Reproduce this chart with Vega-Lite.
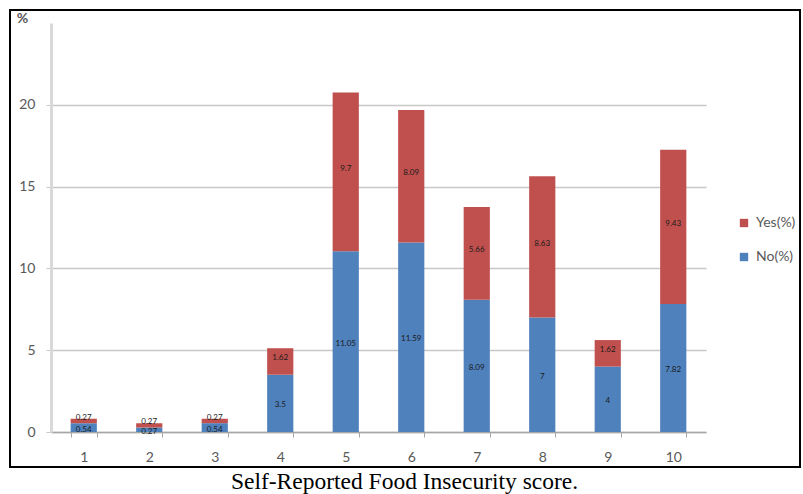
{
  "$schema": "https://vega.github.io/schema/vega-lite/v6.json",
  "width": 655,
  "height": 409,
  "autosize": {"type": "none"},
  "padding": {"left": 51, "top": 23, "right": 97, "bottom": 62},
  "background": "white",
  "config": {
    "view": {"stroke": null},
    "font": "Lato"
  },
  "title": {
    "text": "Self-Reported Food Insecurity score.",
    "orient": "bottom",
    "font": "Liberation Serif",
    "fontSize": 23.5,
    "fontWeight": "normal",
    "color": "#000000",
    "anchor": "middle",
    "dx": 26,
    "offset": 2
  },
  "data": {
    "values": [
      {"score": "1", "series": "No(%)", "value": 0.54},
      {"score": "2", "series": "No(%)", "value": 0.27},
      {"score": "3", "series": "No(%)", "value": 0.54},
      {"score": "4", "series": "No(%)", "value": 3.5},
      {"score": "5", "series": "No(%)", "value": 11.05},
      {"score": "6", "series": "No(%)", "value": 11.59},
      {"score": "7", "series": "No(%)", "value": 8.09},
      {"score": "8", "series": "No(%)", "value": 7},
      {"score": "9", "series": "No(%)", "value": 4},
      {"score": "10", "series": "No(%)", "value": 7.82},
      {"score": "1", "series": "Yes(%)", "value": 0.27},
      {"score": "2", "series": "Yes(%)", "value": 0.27},
      {"score": "3", "series": "Yes(%)", "value": 0.27},
      {"score": "4", "series": "Yes(%)", "value": 1.62},
      {"score": "5", "series": "Yes(%)", "value": 9.7},
      {"score": "6", "series": "Yes(%)", "value": 8.09},
      {"score": "7", "series": "Yes(%)", "value": 5.66},
      {"score": "8", "series": "Yes(%)", "value": 8.63},
      {"score": "9", "series": "Yes(%)", "value": 1.62},
      {"score": "10", "series": "Yes(%)", "value": 9.43}
    ]
  },
  "resolve": {"scale": {"x": "independent", "y": "independent"}},
  "layer": [
    {
      "mark": {
        "type": "rect",
        "fill": null,
        "fillOpacity": 0,
        "stroke": "#000000",
        "strokeWidth": 2
      },
      "encoding": {
        "x": {"value": -41},
        "x2": {"value": {"expr": "width + 94"}},
        "y": {"value": -13},
        "y2": {"value": {"expr": "height + 35"}}
      }
    },
    {
      "encoding": {
        "x": {
          "field": "score",
          "type": "ordinal",
          "sort": ["1","2","3","4","5","6","7","8","9","10"],
          "scale": {"paddingInner": 0.6, "paddingOuter": 0.3},
          "axis": {
            "title": null,
            "labelAngle": 0,
            "labelFont": "Lato",
            "labelFontSize": 14,
            "labelColor": "#595959",
            "labelPadding": 13,
            "tickBand": "extent",
            "tickSize": 5,
            "tickColor": "#a6a6a6",
            "domainColor": "#a6a6a6",
            "domainWidth": 1.5
          }
        },
        "y": {
          "field": "value",
          "type": "quantitative",
          "stack": "zero",
          "scale": {"domain": [0, 25]},
          "axis": {
            "title": "%",
            "titleAngle": 0,
            "titleX": -29,
            "titleY": -5,
            "titleAlign": "center",
            "titleBaseline": "middle",
            "titleFont": "Lato",
            "titleFontSize": 14,
            "titleFontWeight": "bold",
            "titleColor": "#595959",
            "values": [0, 5, 10, 15, 20],
            "labelFont": "Lato",
            "labelFontSize": 14,
            "labelColor": "#595959",
            "labelPadding": 11,
            "tickSize": 5,
            "tickColor": "#c8c8c8",
            "grid": true,
            "gridColor": "#c8c8c8",
            "gridWidth": 1.5,
            "domainColor": "#d9d9d9",
            "domainWidth": 3
          }
        },
        "order": {"field": "series", "sort": "ascending"}
      },
      "layer": [
        {
          "mark": {"type": "bar"},
          "encoding": {
            "color": {
              "field": "series",
              "type": "nominal",
              "scale": {"domain": ["Yes(%)", "No(%)"], "range": ["#C0504D", "#4F81BD"]},
              "legend": {
                "title": null,
                "orient": "none",
                "legendX": 686,
                "legendY": 193,
                "padding": 0,
                "rowPadding": 20,
                "symbolType": "square",
                "symbolSize": 70,
                "symbolStrokeWidth": 0,
                "labelFont": "Lato",
                "labelFontSize": 14,
                "labelColor": "#595959",
                "labelOffset": 5
              }
            }
          }
        },
        {
          "mark": {
            "type": "text",
            "fontSize": 8,
            "color": "#1a1a1a",
            "baseline": "middle",
            "dy": {"expr": "datum.series === 'Yes(%)' ? -3 : 2"}
          },
          "encoding": {
            "y": {"field": "value", "type": "quantitative", "stack": "zero", "bandPosition": 0.5},
            "text": {"field": "value", "type": "quantitative"}
          }
        }
      ]
    }
  ]
}
